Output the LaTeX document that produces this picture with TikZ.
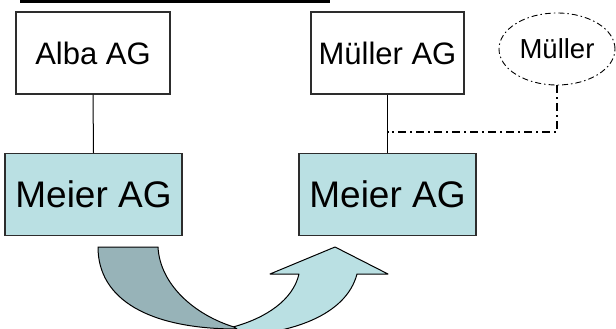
\documentclass[tikz,border=0pt]{standalone}
\usepackage{fontspec}
\setmainfont{Liberation Sans}
\usetikzlibrary{shapes.geometric}
\definecolor{boxfill}{RGB}{186,224,227}
\definecolor{bandback}{RGB}{151,179,184}
\definecolor{edge}{RGB}{45,45,45}
\tikzset{
  firm/.style={draw=edge, line width=1.4pt, inner sep=0pt, minimum height=82pt},
  parent/.style={firm, fill=white, font=\fontsize{31}{36}\selectfont},
  child/.style={firm, fill=boxfill, minimum width=177pt, font=\fontsize{37}{42}\selectfont},
  link/.style={draw=black, line width=1pt},
  dashdot/.style={draw=black, line width=1.1pt, dash pattern=on 8pt off 4pt on 2pt off 4pt},
  band/.style={draw=black, line width=1pt, line join=round}
}
\begin{document}
\begin{tikzpicture}[x=1pt, y=-1pt]
\useasboundingbox (0,0) rectangle (616,329);
% title underline
\fill[black] (20,0) rectangle (330,3);
% companies
\node[parent, minimum width=154pt] (alba) at (93,53) {Alba AG};
\node[parent, minimum width=153pt] (mueller) at (387.5,53) {Müller AG};
\node[child] (meierL) at (93.5,194.5) {Meier AG};
\node[child] (meierR) at (387.5,194.5) {Meier AG};
\node[ellipse, draw=black, line width=0.9pt, dash pattern=on 6pt off 3pt on 1.5pt off 3pt,
      minimum width=116pt, minimum height=72pt, inner sep=0pt,
      font=\fontsize{27.5}{31}\selectfont] (person) at (557,49) {Müller};
% ownership links
\draw[link] (alba.south) -- (meierL.north);
\draw[link] (mueller.south) -- (meierR.north);
\coordinate (join) at (387.5,132);
\draw[dashdot] (person.south) |- (join);
% curved transfer arrow
\begin{scope}
\clip (0,0) rectangle (616,329);
\draw[band, fill=boxfill]
  (233,327) .. controls (266,318) and (293,300) .. (299,274)
  -- (270,274) -- (335,247) -- (388,274) -- (357,274)
  .. controls (346,316) and (290,334) .. (233,336)
  -- (215,336) -- cycle;
\draw[band, fill=bandback]
  (98,247) -- (158,247)
  .. controls (160,285) and (195,315) .. (234,327)
  -- (237,329)
  .. controls (150,329) and (98,300) .. cycle;
\end{scope}
\end{tikzpicture}
\end{document}
